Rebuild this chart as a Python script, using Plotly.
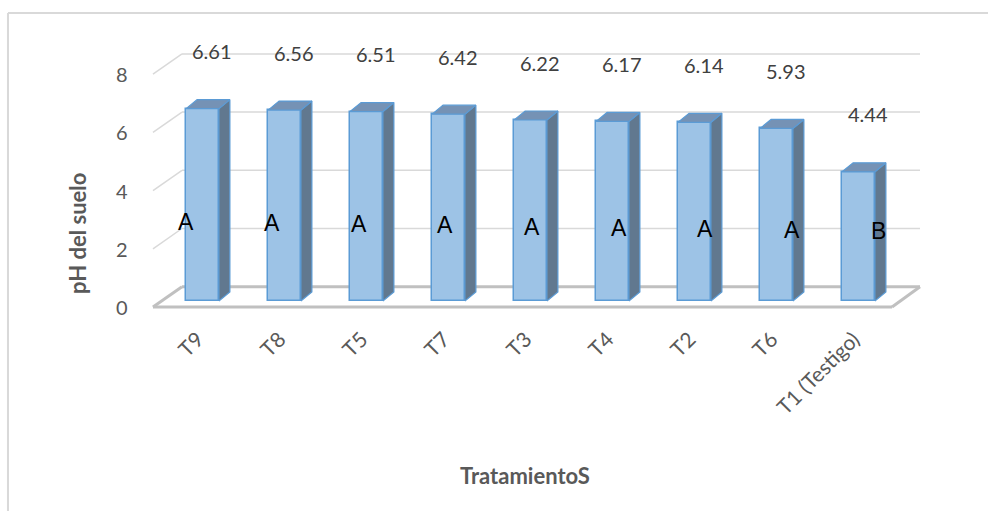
import plotly.graph_objects as go

# Soil pH by treatment, with significance groups
tratamientos = ["T9", "T8", "T5", "T7", "T3", "T4", "T2", "T6", "T1 (Testigo)"]
ph_suelo = [6.61, 6.56, 6.51, 6.42, 6.22, 6.17, 6.14, 5.93, 4.44]
grupos = ["A", "A", "A", "A", "A", "A", "A", "A", "B"]
y_ticks = [0, 2, 4, 6, 8]

# --- 3D-look geometry, in axis units ---
BAR_W = 0.40          # front face width
DEPTH_X = 0.134       # bar depth projected on x
DEPTH_Y = 0.31        # bar depth projected on y
WALL_BACK_DY = 0.491  # back wall raised relative to bar plane
FRONT_DY = -0.206     # front floor edge lowered relative to bar plane
X_FRONT_L, X_BACK_L = -0.604, -0.25
X_FRONT_R, X_BACK_R = 8.409, 8.75

GRID = "#d9d9d9"
FLOOR = "#c0c0c0"
TEXT = "#595959"
FONT = "Lato"

idx = list(range(len(tratamientos)))

fig = go.Figure()

# Front faces of the bars
fig.add_trace(go.Bar(
    x=idx, y=ph_suelo, width=BAR_W,
    marker=dict(color="#9dc3e6", line=dict(color="#5b9bd5", width=1.5)),
    hoverinfo="skip", showlegend=False,
))

# Side and top faces computed from the same values
side_x, side_y, top_x, top_y = [], [], [], []
for i, v in zip(idx, ph_suelo):
    r = i + BAR_W / 2
    l = i - BAR_W / 2
    side_x += [r, r + DEPTH_X, r + DEPTH_X, r, r, None]
    side_y += [0, DEPTH_Y, v + DEPTH_Y, v, 0, None]
    top_x += [l, r, r + DEPTH_X, l + DEPTH_X, l, None]
    top_y += [v, v, v + DEPTH_Y, v + DEPTH_Y, v, None]

fig.add_trace(go.Scatter(
    x=side_x, y=side_y, mode="lines", fill="toself", fillcolor="#61788f",
    line=dict(color="#5b9bd5", width=1.2), hoverinfo="skip", showlegend=False,
))
fig.add_trace(go.Scatter(
    x=top_x, y=top_y, mode="lines", fill="toself", fillcolor="#7592b5",
    line=dict(color="#5b9bd5", width=1.2), hoverinfo="skip", showlegend=False,
))

# Back wall gridlines, side wall diagonals and the floor
shapes = []
for v in y_ticks:
    floor = v == 0
    col = FLOOR if floor else GRID
    w = 3 if floor else 1.5
    yb = v + WALL_BACK_DY
    yf = v + FRONT_DY
    shapes.append(dict(type="line", layer="below", xref="x", yref="y",
                       x0=X_FRONT_L, y0=yf, x1=X_BACK_L, y1=yb,
                       line=dict(color=col, width=w)))
    shapes.append(dict(type="line", layer="below", xref="x", yref="y",
                       x0=X_BACK_L, y0=yb, x1=X_BACK_R, y1=yb,
                       line=dict(color=col, width=w)))
    if floor:
        shapes.append(dict(type="line", layer="below", xref="x", yref="y",
                           x0=X_FRONT_L, y0=yf, x1=X_FRONT_R, y1=yf,
                           line=dict(color=col, width=w)))
        shapes.append(dict(type="line", layer="below", xref="x", yref="y",
                           x0=X_FRONT_R, y0=yf, x1=X_BACK_R, y1=yb,
                           line=dict(color=col, width=w)))

# Chart area border (top and left edges visible)
shapes.append(dict(type="line", xref="paper", yref="paper", layer="below",
                   x0=-0.107, y0=1.0582, x1=1.2, y1=1.0582,
                   line=dict(color="#d9d9d9", width=2)))
shapes.append(dict(type="line", xref="paper", yref="paper", layer="below",
                   x0=-0.107, y0=1.0582, x1=-0.107, y1=-1.0,
                   line=dict(color="#d9d9d9", width=2)))

annotations = []
# Value labels above the bars
for i, v in zip(idx, ph_suelo):
    annotations.append(dict(
        x=i + 0.12, y=v + 1.97, xref="x", yref="y", text=f"{v:.2f}",
        showarrow=False, font=dict(family=FONT, size=20, color="#404040"),
    ))
# Significance letters on the bars
for i, g in zip(idx, grupos):
    annotations.append(dict(
        x=i + (-17 + 4.6 * i) / 82, y=2.7 - 0.035 * i, xref="x", yref="y",
        text=g, showarrow=False,
        font=dict(family="Liberation Sans", size=23, color="#000000"),
    ))
# Value axis labels along the front edge
for v in y_ticks:
    annotations.append(dict(
        x=-0.884, y=v + FRONT_DY, xref="x", yref="y", text=str(v),
        xanchor="right", yanchor="middle", showarrow=False,
        font=dict(family=FONT, size=20, color=TEXT),
    ))
# Axis titles
annotations.append(dict(
    x=-0.0256, y=0.3048, xref="paper", yref="paper", text="<b>pH del suelo</b>",
    xanchor="center", yanchor="middle", textangle=-90, showarrow=False,
    font=dict(family=FONT, size=22, color=TEXT),
))
annotations.append(dict(
    x=0.494, y=-0.524, xref="paper", yref="paper", text="<b>TratamientoS</b>",
    xanchor="center", yanchor="middle", showarrow=False,
    font=dict(family=FONT, size=22, color=TEXT),
))

fig.update_layout(
    width=988, height=511,
    margin=dict(l=100, r=28, t=30, b=189),
    paper_bgcolor="white", plot_bgcolor="white",
    xaxis=dict(
        range=[-1.25, 9.2378], tickmode="array",
        tickvals=[i - 0.06 for i in idx], ticktext=tratamientos,
        tickangle=-45, showgrid=False, zeroline=False, showline=False,
        ticks="", ticklabelstandoff=0,
        tickfont=dict(family=FONT, size=21, color=TEXT),
    ),
    yaxis=dict(
        range=[-0.7216, 9.3127], showgrid=False, zeroline=False,
        showline=False, showticklabels=False, ticks="",
    ),
    shapes=shapes, annotations=annotations,
    bargap=0, showlegend=False,
)

fig.write_html("out.html")
